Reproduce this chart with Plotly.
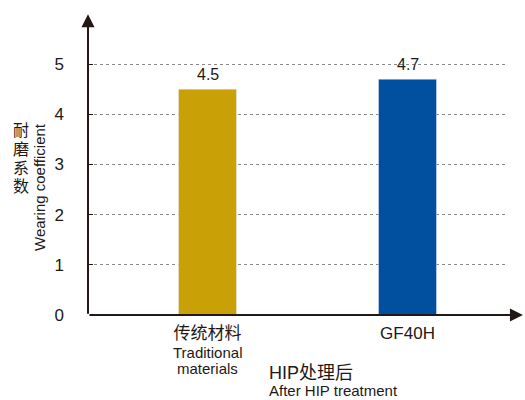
import plotly.graph_objects as go

categories = ["传统材料", "GF40H"]
sub_labels = ["Traditional", "materials"]
values = [4.5, 4.7]
colors = ["#C9A005", "#00509F"]
value_text = ["4.5", "4.7"]
y_ticks = [0, 1, 2, 3, 4, 5]
y_title_cn = ["耐", "磨", "系", "数"]

FONT = "Liberation Sans, Arial, Noto Sans CJK SC, sans-serif"
TXT = "#231815"
PW = 417.0
PH = 276.0

fig = go.Figure(go.Bar(
    x=categories, y=values, marker_color=colors, width=0.29,
    hoverinfo="skip",
))

fig.update_layout(
    width=525, height=400,
    margin=dict(l=88, r=20, t=39, b=85, autoexpand=False),
    paper_bgcolor="white", plot_bgcolor="white",
    font=dict(family=FONT, color=TXT),
    showlegend=False,
    xaxis=dict(
        range=[-0.5975, 1.4875], showgrid=False, showline=False, zeroline=False,
        ticks="", automargin=False,
        tickfont=dict(size=17, color=TXT), ticklabelstandoff=6,
    ),
    yaxis=dict(
        range=[0, 5.5], tickvals=y_ticks, showgrid=True, gridcolor="#8a8a8a",
        griddash="dot", gridwidth=1, zeroline=False, showline=False,
        ticks="inside", ticklen=5, tickcolor=TXT, tickwidth=1, automargin=False,
        tickfont=dict(size=17, color=TXT), ticklabelstandoff=23,
    ),
)

# value labels above bars
for c, v, t in zip(categories, values, value_text):
    fig.add_annotation(xref="x", yref="y", x=c, y=v, yanchor="bottom", xanchor="center",
                       yshift=4, text=t, showarrow=False,
                       font=dict(size=16, color=TXT, family=FONT))

# English sub-labels under first category
for i, s in enumerate(sub_labels):
    fig.add_annotation(xref="x", yref="paper", x=categories[0],
                       y=-(352 + 16 * i - 315) / PH, yanchor="middle", xanchor="center",
                       text=s, showarrow=False, borderpad=0,
                       font=dict(size=15, color=TXT, family=FONT))

# axes with arrowheads
fig.add_annotation(xref="paper", yref="paper", x=0, y=1.09, ax=0, ay=301,
                   axref="pixel", ayref="pixel", showarrow=True, arrowhead=2,
                   arrowsize=1.3, arrowwidth=2, arrowcolor=TXT, text="")
fig.add_annotation(xref="paper", yref="paper", x=1.043, y=0, ax=-435, ay=0,
                   showarrow=True, arrowhead=2, arrowsize=1.3, arrowwidth=2,
                   arrowcolor=TXT, text="")

# y-axis titles
fig.add_annotation(xref="paper", yref="paper", x=-48 / PW, y=(315 - 187) / PH,
                   xanchor="center", yanchor="middle",
                   text="Wearing coefficient", textangle=-90, showarrow=False,
                   font=dict(size=15, color=TXT, family=FONT))
for i, ch in enumerate(y_title_cn):
    fig.add_annotation(xref="paper", yref="paper", x=-67 / PW,
                       y=(315 - (130 + 19 * i)) / PH, yanchor="middle", xanchor="center",
                       text=ch, showarrow=False, borderpad=0,
                       font=dict(size=16, color=TXT, family=FONT))

# bottom caption
fig.add_annotation(xref="paper", yref="paper", x=(268 - 88) / PW, y=-(373 - 315) / PH,
                   xanchor="left", yanchor="middle", text="HIP处理后", showarrow=False,
                   borderpad=0, font=dict(size=18, color=TXT, family=FONT))
fig.add_annotation(xref="paper", yref="paper", x=(268 - 88) / PW, y=-(391 - 315) / PH,
                   xanchor="left", yanchor="middle", text="After HIP treatment", showarrow=False,
                   borderpad=0, font=dict(size=15, color=TXT, family=FONT))

fig.write_html("out.html", config={"displayModeBar": False},
               post_script="document.body.style.margin='0';document.body.style.overflow='hidden';")
